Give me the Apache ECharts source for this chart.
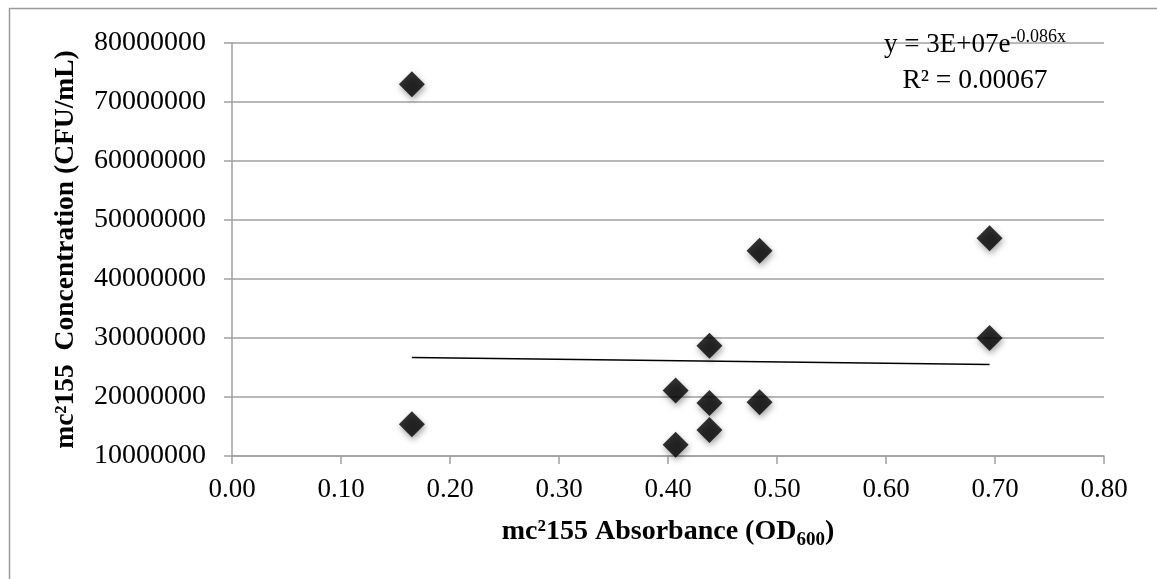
<!DOCTYPE html>
<html>
<head>
<meta charset="utf-8">
<script src="https://cdn.jsdelivr.net/npm/echarts@6/dist/echarts.min.js"></script>
<style>html,body{margin:0;padding:0;background:#fff;}#c{width:1157px;height:579px;}</style>
</head>
<body>
<div id="c"></div>
<script>
// Data
var absorbance = [0.165, 0.165, 0.407, 0.407, 0.438, 0.438, 0.438, 0.484, 0.484, 0.695, 0.695];
var concentration = [73000000, 15400000, 21100000, 11900000, 28700000, 19000000, 14400000, 44800000, 19100000, 46900000, 30000000];
var trendX = [0.165, 0.695];
var trendY = [26700000, 25500000];
var xTickLabels = ['0.00','0.10','0.20','0.30','0.40','0.50','0.60','0.70','0.80'];

var points = absorbance.map(function (x, i) { return [x, concentration[i]]; });
var trend = trendX.map(function (x, i) { return [x, trendY[i]]; });

var SERIF = '"Liberation Serif", "DejaVu Serif", serif';
var chart = echarts.init(document.getElementById('c'));
chart.setOption({
  animation: false,
  backgroundColor: '#fff',
  grid: { left: 232, right: 53, top: 43, bottom: 123 },
  xAxis: {
    type: 'value', min: 0, max: 0.8, interval: 0.1,
    axisLine: { show: true, lineStyle: { color: '#a0a0a0', width: 1.5 } },
    axisTick: { show: true, length: 8, inside: false, lineStyle: { color: '#a0a0a0', width: 1.5 } },
    splitLine: { show: false },
    axisLabel: {
      margin: 20, color: '#000', fontFamily: SERIF, fontSize: 27,
      formatter: function (v) { return xTickLabels[Math.round(v * 10)]; }
    },
    name: '{a|mc²155 Absorbance (OD}{s|600}{a|)}',
    nameLocation: 'middle', nameGap: 58,
    nameTextStyle: {
      rich: {
        a: { fontFamily: SERIF, fontWeight: 'bold', fontSize: 28, color: '#000', lineHeight: 36, verticalAlign: 'middle' },
        s: { fontFamily: SERIF, fontWeight: 'bold', fontSize: 19, color: '#000', lineHeight: 19, verticalAlign: 'bottom' }
      }
    }
  },
  yAxis: {
    type: 'value', min: 10000000, max: 80000000, interval: 10000000,
    axisLine: { show: true, lineStyle: { color: '#a0a0a0', width: 1.5 } },
    axisTick: { show: true, length: 8, lineStyle: { color: '#a0a0a0', width: 1.5 } },
    splitLine: { show: true, lineStyle: { color: '#a0a0a0', width: 1.5 } },
    axisLabel: { margin: 26, color: '#000', fontFamily: SERIF, fontSize: 28, formatter: function (v) { return String(v); } },
    name: 'mc²155  Concentration (CFU/mL)',
    nameLocation: 'middle', nameGap: 152, nameRotate: 90,
    nameTextStyle: { fontFamily: SERIF, fontWeight: 'bold', fontSize: 27.5, color: '#000' }
  },
  series: [
    {
      type: 'line', data: trend, symbol: 'none', silent: true,
      lineStyle: { color: '#000', width: 1.5 }, z: 2
    },
    {
      type: 'scatter', data: points, symbol: 'diamond', symbolSize: [26, 26],
      itemStyle: { color: '#000', shadowColor: 'rgba(0,0,0,0.45)', shadowBlur: 6, shadowOffsetX: 1, shadowOffsetY: 3 },
      z: 3
    }
  ],
  graphic: [
    {
      type: 'rect', shape: { x: 9.5, y: 8.5, width: 3000, height: 3000 },
      style: { fill: 'none', stroke: '#9a9a9a', lineWidth: 1.5 }, silent: true, z: -10
    },
    {
      type: 'text', x: 975, y: 45, z: 10,
      style: {
        text: '{a|y = 3E+07e}{s|-0.086x}',
        align: 'center', verticalAlign: 'middle',
        rich: {
          a: { fontFamily: SERIF, fontSize: 27, fill: '#000', lineHeight: 34, verticalAlign: 'middle' },
          s: { fontFamily: SERIF, fontSize: 18, fill: '#000', lineHeight: 18, verticalAlign: 'top' }
        }
      }
    },
    {
      type: 'text', x: 975, y: 81, z: 10,
      style: { text: 'R² = 0.00067', fontFamily: SERIF, fontSize: 27.5, fill: '#000', align: 'center', verticalAlign: 'middle' }
    }
  ]
});
</script>
</body>
</html>
